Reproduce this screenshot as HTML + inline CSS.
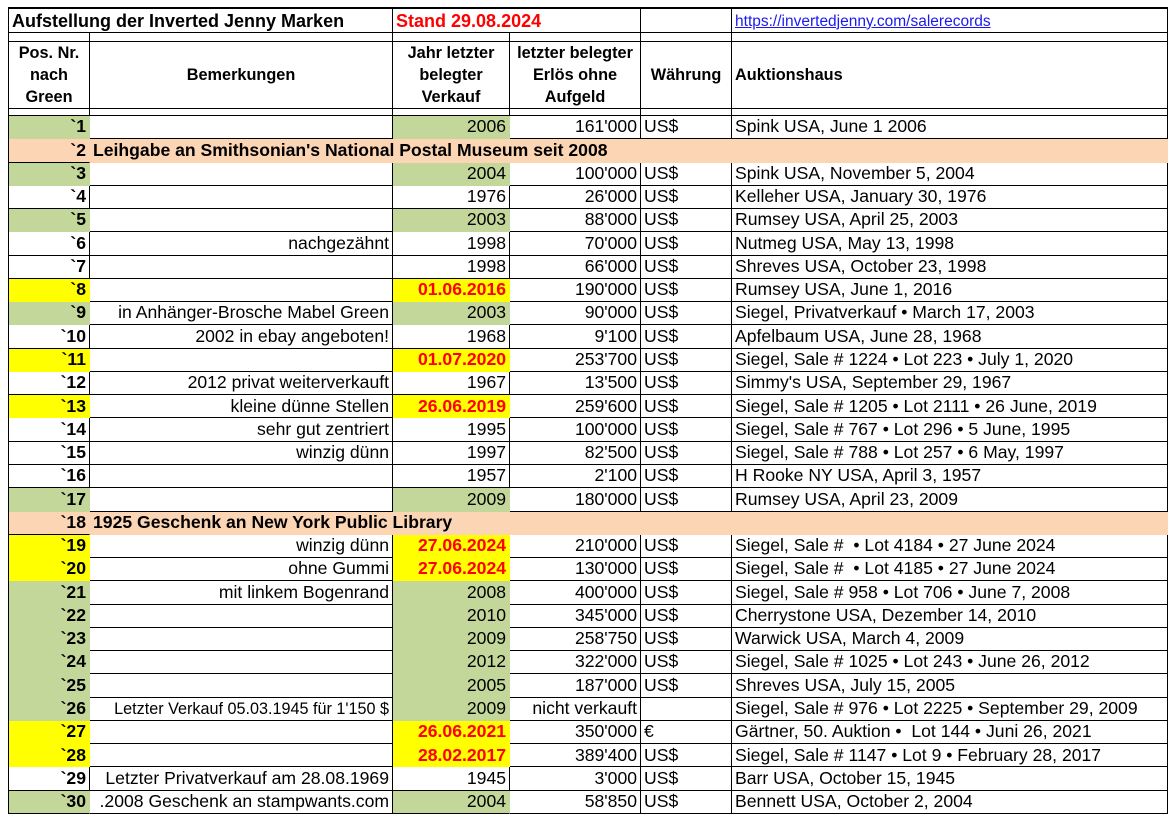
<!DOCTYPE html>
<html><head><meta charset="utf-8"><style>
html,body{margin:0;padding:0;background:#fff;width:1173px;height:821px;overflow:hidden}
table{position:absolute;left:8px;top:7px;border-collapse:separate;border-spacing:0;table-layout:fixed;width:1159px;border-left:1.5px solid #000;border-top:2px solid #000;font-family:"Liberation Sans",Arial,sans-serif;font-size:17.6px;color:#000}
td{border-right:1px solid #000;border-bottom:1px solid #000;padding:0 3px;white-space:nowrap;overflow:hidden;line-height:1;box-sizing:border-box}
tr.d td{height:23.27px}
.r{text-align:right}.c{text-align:center}.b{font-weight:bold}
.g{background:#c4d79b;border-color:transparent}
.y{background:#ffff00;border-color:transparent}
.p{background:#fcd5b4;border-right-color:transparent}
.red{color:#f00;font-weight:bold}
.h td{font-weight:bold;font-size:16.3px;line-height:22px}
a{color:#1a1aee;text-decoration:underline;font-size:15.5px}
.sm{font-size:16.2px}
.t{font-size:18px}
</style></head><body>
<table>
<colgroup><col style="width:81px"><col style="width:303px"><col style="width:117px"><col style="width:131px"><col style="width:91px"><col style="width:436px"></colgroup>
<tr><td colspan="2" class="b t" style="height:24px">Aufstellung der Inverted Jenny Marken</td><td colspan="2" class="red t">Stand 29.08.2024</td><td></td><td><a>https://invertedjenny.com/salerecords</a></td></tr>
<tr><td style="height:9px"></td><td></td><td></td><td></td><td></td><td></td></tr>
<tr class="h"><td class="c" style="height:65px">Pos. Nr.<br>nach<br>Green</td><td class="c">Bemerkungen</td><td class="c">Jahr letzter<br>belegter<br>Verkauf</td><td class="c">letzter belegter<br>Erlös ohne<br>Aufgeld</td><td class="c">Währung</td><td>Auktionshaus</td></tr>
<tr><td style="height:7px"></td><td></td><td></td><td></td><td></td><td></td></tr>
<tr class="d"><td class="g r b">`1</td><td></td><td class="g r">2006</td><td class="r">161'000</td><td>US$</td><td>Spink USA, June 1 2006</td></tr>
<tr class="d"><td class="p r b">`2</td><td colspan="5" class="p b" style="border-bottom-color:transparent">Leihgabe an Smithsonian's National Postal Museum seit 2008</td></tr>
<tr class="d"><td class="g r b">`3</td><td></td><td class="g r">2004</td><td class="r">100'000</td><td>US$</td><td>Spink USA, November 5, 2004</td></tr>
<tr class="d"><td class="r b">`4</td><td></td><td class="r">1976</td><td class="r">26'000</td><td>US$</td><td>Kelleher USA, January 30, 1976</td></tr>
<tr class="d"><td class="g r b">`5</td><td></td><td class="g r">2003</td><td class="r">88'000</td><td>US$</td><td>Rumsey USA, April 25, 2003</td></tr>
<tr class="d"><td class="r b">`6</td><td class="r">nachgezähnt</td><td class="r">1998</td><td class="r">70'000</td><td>US$</td><td>Nutmeg USA, May 13, 1998</td></tr>
<tr class="d"><td class="r b">`7</td><td></td><td class="r">1998</td><td class="r">66'000</td><td>US$</td><td>Shreves USA, October 23, 1998</td></tr>
<tr class="d"><td class="y r b">`8</td><td></td><td class="y r red">01.06.2016</td><td class="r">190'000</td><td>US$</td><td>Rumsey USA, June 1, 2016</td></tr>
<tr class="d"><td class="g r b">`9</td><td class="r">in Anhänger-Brosche Mabel Green</td><td class="g r">2003</td><td class="r">90'000</td><td>US$</td><td>Siegel, Privatverkauf • March 17, 2003</td></tr>
<tr class="d"><td class="r b">`10</td><td class="r">2002 in ebay angeboten!</td><td class="r">1968</td><td class="r">9'100</td><td>US$</td><td>Apfelbaum USA, June 28, 1968</td></tr>
<tr class="d"><td class="y r b">`11</td><td></td><td class="y r red">01.07.2020</td><td class="r">253'700</td><td>US$</td><td>Siegel, Sale # 1224 • Lot 223 • July 1, 2020</td></tr>
<tr class="d"><td class="r b">`12</td><td class="r">2012 privat weiterverkauft</td><td class="r">1967</td><td class="r">13'500</td><td>US$</td><td>Simmy's USA, September 29, 1967</td></tr>
<tr class="d"><td class="y r b">`13</td><td class="r">kleine dünne Stellen</td><td class="y r red">26.06.2019</td><td class="r">259'600</td><td>US$</td><td>Siegel, Sale # 1205 • Lot 2111 • 26 June, 2019</td></tr>
<tr class="d"><td class="r b">`14</td><td class="r">sehr gut zentriert</td><td class="r">1995</td><td class="r">100'000</td><td>US$</td><td>Siegel, Sale # 767 • Lot 296 • 5 June, 1995</td></tr>
<tr class="d"><td class="r b">`15</td><td class="r">winzig dünn</td><td class="r">1997</td><td class="r">82'500</td><td>US$</td><td>Siegel, Sale # 788 • Lot 257 • 6 May, 1997</td></tr>
<tr class="d"><td class="r b">`16</td><td></td><td class="r">1957</td><td class="r">2'100</td><td>US$</td><td>H Rooke NY USA, April 3, 1957</td></tr>
<tr class="d"><td class="g r b">`17</td><td></td><td class="g r">2009</td><td class="r">180'000</td><td>US$</td><td>Rumsey USA, April 23, 2009</td></tr>
<tr class="d"><td class="p r b">`18</td><td colspan="5" class="p b" style="border-bottom-color:transparent">1925 Geschenk an New York Public Library</td></tr>
<tr class="d"><td class="y r b">`19</td><td class="r">winzig dünn</td><td class="y r red">27.06.2024</td><td class="r">210'000</td><td>US$</td><td>Siegel, Sale # &nbsp;• Lot 4184 • 27 June 2024</td></tr>
<tr class="d"><td class="y r b">`20</td><td class="r">ohne Gummi</td><td class="y r red">27.06.2024</td><td class="r">130'000</td><td>US$</td><td>Siegel, Sale # &nbsp;• Lot 4185 • 27 June 2024</td></tr>
<tr class="d"><td class="g r b">`21</td><td class="r">mit linkem Bogenrand</td><td class="g r">2008</td><td class="r">400'000</td><td>US$</td><td>Siegel, Sale # 958 • Lot 706 • June 7, 2008</td></tr>
<tr class="d"><td class="g r b">`22</td><td></td><td class="g r">2010</td><td class="r">345'000</td><td>US$</td><td>Cherrystone USA, Dezember 14, 2010</td></tr>
<tr class="d"><td class="g r b">`23</td><td></td><td class="g r">2009</td><td class="r">258'750</td><td>US$</td><td>Warwick USA, March 4, 2009</td></tr>
<tr class="d"><td class="g r b">`24</td><td></td><td class="g r">2012</td><td class="r">322'000</td><td>US$</td><td>Siegel, Sale # 1025 • Lot 243 • June 26, 2012</td></tr>
<tr class="d"><td class="g r b">`25</td><td></td><td class="g r">2005</td><td class="r">187'000</td><td>US$</td><td>Shreves USA, July 15, 2005</td></tr>
<tr class="d"><td class="g r b">`26</td><td class="r sm">Letzter Verkauf 05.03.1945 für 1'150 $</td><td class="g r">2009</td><td class="r">nicht verkauft</td><td></td><td>Siegel, Sale # 976 • Lot 2225 • September 29, 2009</td></tr>
<tr class="d"><td class="y r b">`27</td><td></td><td class="y r red">26.06.2021</td><td class="r">350'000</td><td>€</td><td>Gärtner, 50. Auktion • &nbsp;Lot 144 • Juni 26, 2021</td></tr>
<tr class="d"><td class="y r b">`28</td><td></td><td class="y r red">28.02.2017</td><td class="r">389'400</td><td>US$</td><td>Siegel, Sale # 1147 • Lot 9 • February 28, 2017</td></tr>
<tr class="d"><td class="r b">`29</td><td class="r">Letzter Privatverkauf am 28.08.1969</td><td class="r">1945</td><td class="r">3'000</td><td>US$</td><td>Barr USA, October 15, 1945</td></tr>
<tr class="d"><td class="g r b" style="border-bottom-color:#000">`30</td><td class="r">.2008 Geschenk an stampwants.com</td><td class="g r" style="border-bottom-color:#000">2004</td><td class="r">58'850</td><td>US$</td><td>Bennett USA, October 2, 2004</td></tr>
</table>
</body></html>
